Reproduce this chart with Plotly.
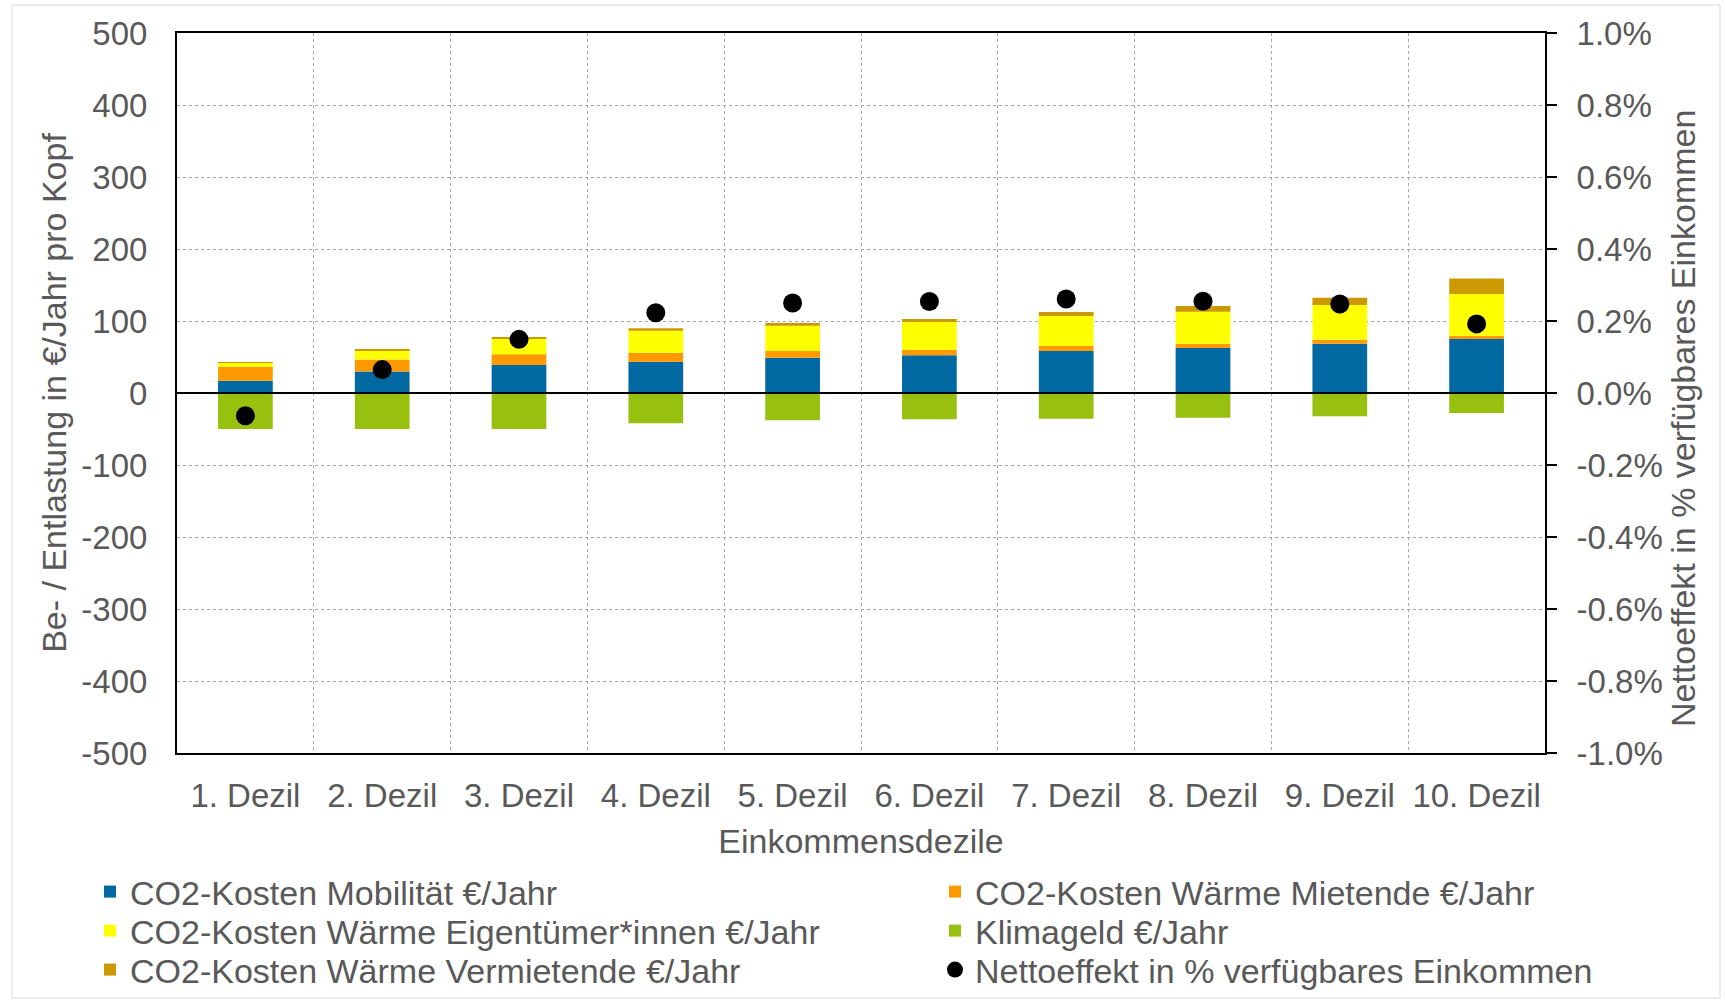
import plotly.graph_objects as go

# Einkommensdezile
deciles = ["1. Dezil", "2. Dezil", "3. Dezil", "4. Dezil", "5. Dezil",
           "6. Dezil", "7. Dezil", "8. Dezil", "9. Dezil", "10. Dezil"]

# Be- / Entlastung in €/Jahr pro Kopf
mobilitaet = [17, 30, 39, 43.5, 49, 52.3, 58.3, 62.5, 68.5, 75]
waerme_mietende = [19.5, 16.5, 14.8, 12.5, 9.3, 7.9, 7.0, 6.0, 5.5, 4.6]
waerme_eigentuemer = [6.0, 13.0, 21.3, 30.6, 35.2, 38.4, 41.6, 44.4, 48.2, 57.9]
waerme_vermietende = [0.3, 0.6, 2.3, 3.2, 3.7, 4.2, 5.6, 7.9, 10.2, 21.7]
klimageld = [-50, -50, -50, -42, -38, -36.6, -35.6, -34.3, -32.4, -27.8]

# Nettoeffekt in % des verfügbaren Einkommens
nettoeffekt = [-0.063, 0.065, 0.149, 0.223, 0.250, 0.254, 0.261, 0.255, 0.247, 0.192]

y_ticks = list(range(-500, 501, 100))
y_ticktext = [str(v) for v in y_ticks]
y2_ticks = [-1.0, -0.8, -0.6, -0.4, -0.2, 0.0, 0.2, 0.4, 0.6, 0.8, 1.0]
y2_ticktext = [f"{v:.1f}%" for v in y2_ticks]

FONT = "Liberation Sans, Arial, sans-serif"
GREY = "#595959"
GRID = "#a6a6a6"
TICK_SIZE = 33
TEXT_SIZE = 34

W, H = 1725, 1003
ML, MR, MT, MB = 177, 180, 33, 250
PW, PH = W - ML - MR, H - MT - MB
xpos = list(range(len(deciles)))

# (name, values, colour, legend id) in stacking order
bar_series = [
    ("CO2-Kosten Mobilität €/Jahr", mobilitaet, "#0069A2", "legend"),
    ("CO2-Kosten Wärme Mietende €/Jahr", waerme_mietende, "#FF9900", "legend2"),
    ("CO2-Kosten Wärme Eigentümer*innen €/Jahr", waerme_eigentuemer, "#FFFF00", "legend3"),
    ("CO2-Kosten Wärme Vermietende €/Jahr", waerme_vermietende, "#CC9900", "legend5"),
    ("Klimageld €/Jahr", klimageld, "#97C00F", "legend4"),
]

fig = go.Figure()
for name, vals, color, leg in bar_series:
    fig.add_trace(go.Bar(
        x=xpos, y=vals, name=name, marker_color=color,
        marker_line_width=0, legend=leg, showlegend=True,
    ))

fig.add_trace(go.Scatter(
    x=xpos, y=nettoeffekt, name="Nettoeffekt in % verfügbares Einkommen",
    mode="markers", marker=dict(color="black", size=19, symbol="circle"),
    yaxis="y2", legend="legend6", showlegend=True,
))

# two-column legend below the plot: one single-entry legend per cell
col_left_px = [90, 935]
row_mid_px = [892, 931, 970]


def legend_cell(row, col):
    return dict(
        x=(col_left_px[col] - ML) / PW, y=(H - MB - row_mid_px[row]) / PH,
        xanchor="left", yanchor="middle",
        orientation="v", itemwidth=30,
        font=dict(family=FONT, size=TEXT_SIZE, color=GREY),
        bgcolor="rgba(0,0,0,0)",
    )


fig.update_layout(
    width=W, height=H,
    margin=dict(l=ML, r=MR, t=MT, b=MB, autoexpand=False),
    paper_bgcolor="white", plot_bgcolor="white",
    barmode="relative", bargap=0.6, showlegend=True,
    font=dict(family=FONT, color=GREY),
    xaxis=dict(
        range=[-0.5, 9.5], tickmode="array", tickvals=xpos, ticktext=deciles,
        showgrid=False, zeroline=False, automargin=False,
        showline=True, linecolor="black", linewidth=2, mirror=True,
        ticks="", ticklabelstandoff=12,
        tickfont=dict(family=FONT, size=TICK_SIZE, color=GREY),
        minor=dict(tick0=0.5, dtick=1, showgrid=True, gridcolor=GRID,
                   griddash="dot", gridwidth=1, ticks=""),
        title=dict(text="Einkommensdezile", standoff=17,
                   font=dict(family=FONT, size=TEXT_SIZE, color=GREY)),
    ),
    yaxis=dict(
        range=[-500, 500], tickmode="array", tickvals=y_ticks, ticktext=y_ticktext,
        showgrid=True, gridcolor=GRID, griddash="dot", gridwidth=1,
        zeroline=False, showline=True, linecolor="black", linewidth=2,
        automargin=False, ticks="", ticklabelstandoff=21,
        tickfont=dict(family=FONT, size=TICK_SIZE, color=GREY),
        title=dict(text="Be- / Entlastung in €/Jahr pro Kopf", standoff=4,
                   font=dict(family=FONT, size=TEXT_SIZE, color=GREY)),
    ),
    yaxis2=dict(
        overlaying="y", side="right", range=[-1.0, 1.0],
        tickmode="array", tickvals=y2_ticks, ticktext=y2_ticktext,
        showgrid=False, zeroline=False, automargin=False,
        showline=True, linecolor="black", linewidth=2,
        ticks="outside", ticklen=10, tickwidth=2, tickcolor="black",
        ticklabelstandoff=13,
        tickfont=dict(family=FONT, size=TICK_SIZE, color=GREY),
    ),
    legend=legend_cell(0, 0),
    legend2=legend_cell(0, 1),
    legend3=legend_cell(1, 0),
    legend4=legend_cell(1, 1),
    legend5=legend_cell(2, 0),
    legend6=legend_cell(2, 1),
    annotations=[
        # right axis title, rotated to read bottom-up
        dict(text="Nettoeffekt in % verfügbares Einkommen",
             xref="paper", yref="paper",
             x=(1683 - ML) / PW, y=(H - MB - 419) / PH,
             xanchor="center", yanchor="middle", textangle=-90,
             showarrow=False, font=dict(family=FONT, size=TEXT_SIZE, color=GREY)),
    ],
    shapes=[
        # zero line drawn over the bars
        dict(type="line", xref="paper", x0=0, x1=1, yref="y", y0=0, y1=0,
             line=dict(color="black", width=2), layer="above"),
        # light frame around the whole chart
        dict(type="rect", xref="paper", yref="paper",
             x0=(12 - ML) / PW, x1=(1720 - ML) / PW,
             y0=(H - MB - 998) / PH, y1=(H - MB - 5) / PH,
             line=dict(color="#d9d9d9", width=1), layer="below"),
    ],
)

fig.write_html("out.html")
